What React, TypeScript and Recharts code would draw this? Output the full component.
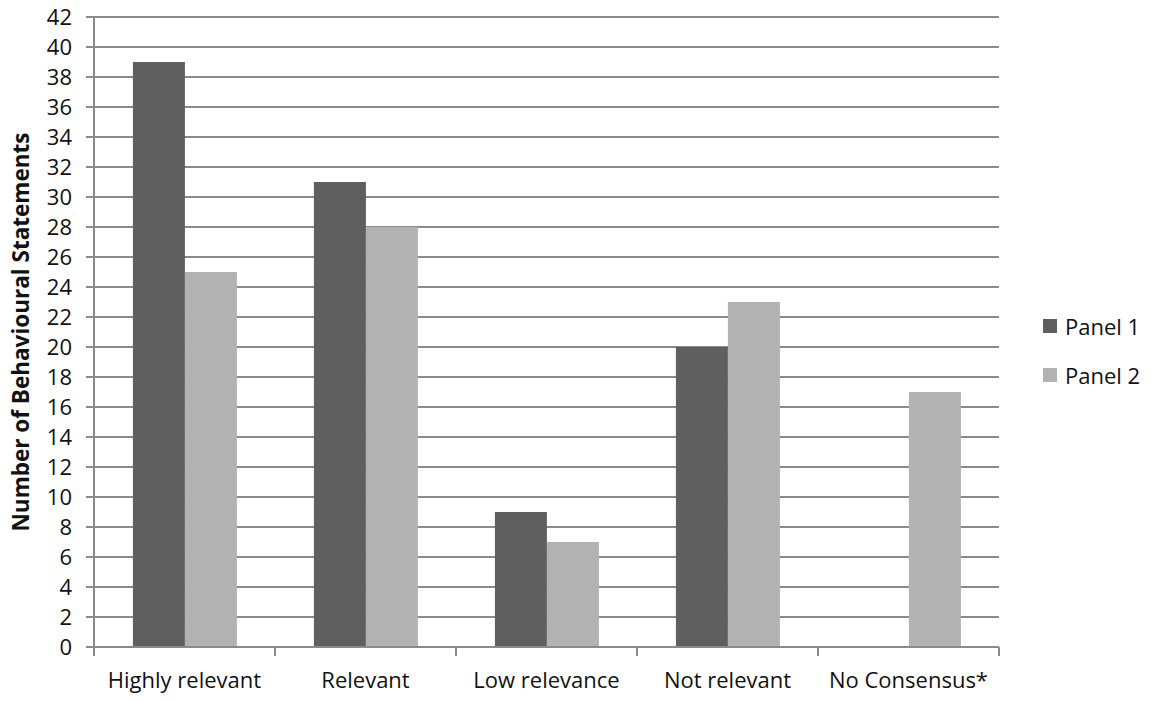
import React from "react";
import { BarChart, Bar, XAxis, YAxis, CartesianGrid, Legend } from "recharts";

const categories = ["Highly relevant", "Relevant", "Low relevance", "Not relevant", "No Consensus*"];
const panel1 = [39, 31, 9, 20, 0];
const panel2 = [25, 28, 7, 23, 17];
const yTicks = [0, 2, 4, 6, 8, 10, 12, 14, 16, 18, 20, 22, 24, 26, 28, 30, 32, 34, 36, 38, 40, 42];

const data = categories.map((c, i) => ({ name: c, p1: panel1[i], p2: panel2[i] }));

const FONT = "'Open Sans', 'Liberation Sans', sans-serif";
const DARK = "#5f5f5f";
const LIGHT = "#b2b2b2";
const GRID = "#8a8a8a";
const TEXT = "#111";

const XTick = (props: any) => {
  const { x, y, payload, index, visibleTicksCount } = props;
  const half = payload && payload.offset ? payload.offset : 90.5;
  const top = y - 8;
  return (
    <g>
      <line x1={x - half} x2={x - half} y1={top} y2={top + 9} stroke={GRID} strokeWidth={2} />
      {index === (visibleTicksCount ?? 5) - 1 && (
        <line x1={x + half} x2={x + half} y1={top} y2={top + 9} stroke={GRID} strokeWidth={2} />
      )}
      <text x={x} y={top + 41} textAnchor="middle" fill={TEXT} fontSize={22} fontFamily={FONT}>
        {payload.value}
      </text>
    </g>
  );
};

const LegendContent = () => (
  <div style={{ fontFamily: FONT, fontSize: 22, color: TEXT }}>
    {[
      { label: "Panel 1", color: DARK },
      { label: "Panel 2", color: LIGHT },
    ].map((it, i) => (
      <div key={i} style={{ display: "flex", alignItems: "center", height: 49, whiteSpace: "nowrap" }}>
        <span style={{ width: 14, height: 14, background: it.color, display: "inline-block", marginRight: 8 }} />
        <span>{it.label}</span>
      </div>
    ))}
  </div>
);

export default function App() {
  return (
    <div style={{ position: "absolute", left: 0, top: 0, width: 1151, height: 702, background: "#fff" }}>
      <BarChart
        width={1151}
        height={702}
        data={data}
        margin={{ top: 17, right: 44, bottom: 0, left: 0 }}
        barCategoryGap="21.5%"
        barGap={0}
      >
        <CartesianGrid vertical={false} stroke={GRID} strokeWidth={2} />
        <XAxis
          dataKey="name"
          axisLine={{ stroke: GRID, strokeWidth: 2 }}
          tickLine={false}
          tick={<XTick />}
          interval={0}
          height={55}
        />
        <YAxis
          domain={[0, 42]}
          ticks={yTicks}
          interval={0}
          width={94}
          axisLine={{ stroke: GRID, strokeWidth: 2 }}
          tickLine={{ stroke: GRID, strokeWidth: 2 }}
          tickSize={8}
          tickMargin={14}
          tick={{ fill: TEXT, fontSize: 22, fontFamily: FONT }}
          label={{
            value: "Number of Behavioural Statements",
            angle: -90,
            position: "insideLeft",
            offset: 21,
            style: { textAnchor: "middle", fontWeight: "bold", fontSize: 22.5, fill: TEXT, fontFamily: FONT },
          }}
        />
        <Legend
          layout="horizontal"
          align="right"
          verticalAlign="middle"
          content={<LegendContent />}
          wrapperStyle={{ left: 1043, right: "auto", top: 301, width: 108 }}
        />
        <Bar dataKey="p1" name="Panel 1" fill={DARK} isAnimationActive={false} />
        <Bar dataKey="p2" name="Panel 2" fill={LIGHT} isAnimationActive={false} />
      </BarChart>
    </div>
  );
}
